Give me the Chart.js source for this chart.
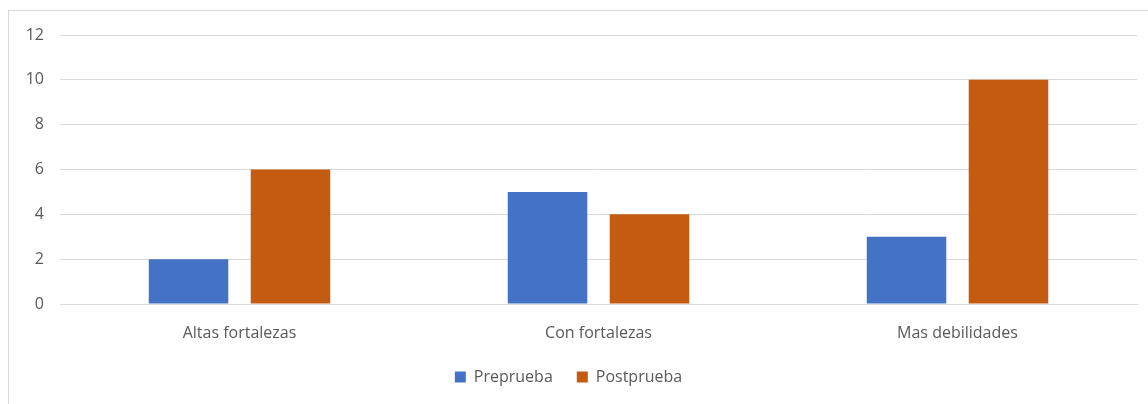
<!DOCTYPE html>
<html>
<head>
<meta charset="utf-8">
<script src="https://cdn.jsdelivr.net/npm/chart.js@4"></script>
<style>
  html, body { margin: 0; padding: 0; background: #fff; }
  body { width: 1148px; height: 404px; position: relative; overflow: hidden; }
  #frame { position: absolute; left: 8px; top: 10px; width: 1200px; height: 450px; border: 1px solid #d9d9d9; }
  #wrap { position: absolute; left: 0; top: 0; width: 1148px; height: 404px; }
</style>
</head>
<body>
<div id="frame"></div>
<div id="wrap"><canvas id="chart"></canvas></div>
<script>
// Data
const categories = ['Altas fortalezas', 'Con fortalezas', 'Mas debilidades'];
const preprueba = [2, 5, 3];
const postprueba = [6, 4, 10];

const textColor = '#595959';
const fontFamily = "'Open Sans', 'Liberation Sans', sans-serif";

const ctx = document.getElementById('chart').getContext('2d');
new Chart(ctx, {
    type: 'bar',
    data: {
        labels: categories,
        datasets: [
            {
                label: 'Preprueba',
                data: preprueba,
                backgroundColor: '#4472C4',
                barPercentage: 0.78,
                categoryPercentage: 0.568
            },
            {
                label: 'Postprueba',
                data: postprueba,
                backgroundColor: '#C55A11',
                barPercentage: 0.78,
                categoryPercentage: 0.568
            }
        ]
    },
    options: {
        responsive: true,
        maintainAspectRatio: false,
        animation: false,
        layout: { padding: { left: 0, right: 11, top: 35, bottom: 9 } },
        plugins: {
            tooltip: { enabled: false },
            legend: {
                position: 'bottom',
                labels: {
                    boxWidth: 11,
                    boxHeight: 11,
                    padding: 24,
                    color: textColor,
                    font: { family: fontFamily, size: 16 }
                }
            }
        },
        scales: {
            x: {
                grid: { display: false },
                border: { color: '#d9d9d9', width: 1 },
                ticks: {
                    color: textColor,
                    padding: 12,
                    font: { family: fontFamily, size: 16 }
                },
                afterFit: (scale) => { scale.height = 41; }
            },
            y: {
                min: 0,
                max: 12,
                ticks: {
                    stepSize: 2,
                    color: textColor,
                    padding: 16,
                    font: { family: fontFamily, size: 16 }
                },
                grid: { color: '#d9d9d9', drawTicks: false },
                border: { display: false },
                afterFit: (scale) => { scale.width = 60; }
            }
        }
    }
});
</script>
</body>
</html>
